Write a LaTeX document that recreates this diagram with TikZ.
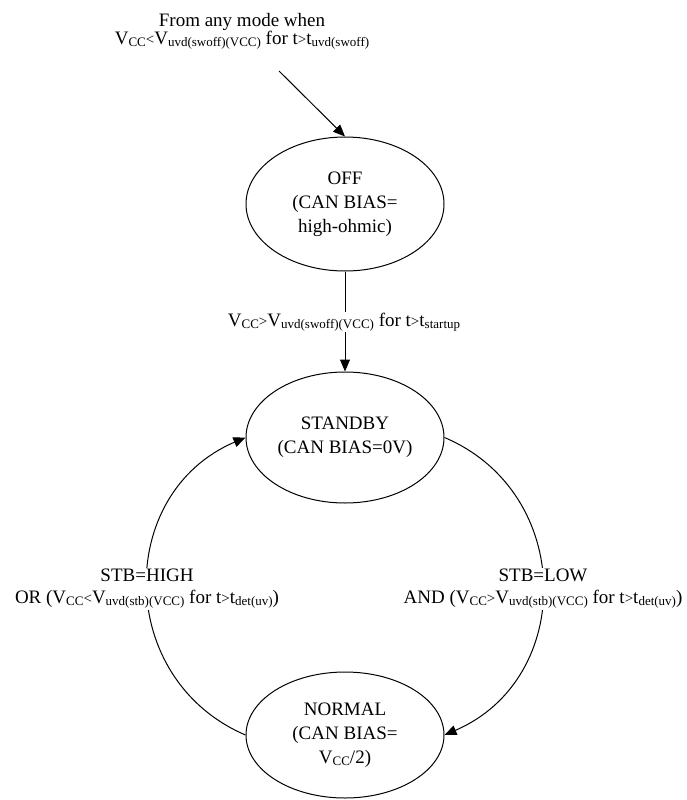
\documentclass[tikz,border=0pt]{standalone}
\usepackage{fontspec}
\setmainfont{Liberation Serif}
\usetikzlibrary{shapes.geometric,arrows.meta}
\newcommand\sbs[1]{\raisebox{-2pt}{\fontsize{13}{13}\selectfont #1}}
\newcommand\sml[1]{{\fontsize{15}{15}\selectfont #1}}
\tikzset{
  state/.style={ellipse, draw, line width=1pt, inner sep=0pt, align=center,
    minimum width=198pt, font=\fontsize{19}{24}\selectfont},
  lbl/.style={align=center, fill=white, inner sep=1pt, font=\fontsize{19}{22}\selectfont},
  arr/.style={-{Triangle[length=12pt,width=10pt]}, line width=1pt}
}
\begin{document}
\begin{tikzpicture}[x=1pt,y=-1pt]
\useasboundingbox (0,0) rectangle (687,800);
\node[state, minimum height=134pt] (off) at (345,204) {OFF\\(CAN BIAS=\\high-ohmic)};
\node[state, minimum height=131pt] (standby) at (345,437.5) {STANDBY\\(CAN BIAS=0V)};
\node[state, minimum height=126pt] (normal) at (345,735) {NORMAL\\(CAN BIAS=\\V\sbs{CC}/2)};
\node[align=center, inner sep=1pt, font=\fontsize{19}{18}\selectfont] (from) at (242,31)
  {From any mode when\\V\sbs{CC}\sml{<}V\sbs{uvd(swoff)(VCC)} for t\sml{>}t\sbs{uvd(swoff)}};
\coordinate (src) at (279,71);
\draw[arr] (src) -- (off.north);
\draw[arr] (off.south) -- (standby.north);
\node[lbl] (l1) at (344,322) {V\sbs{CC}\sml{>}V\sbs{uvd(swoff)(VCC)} for t\sml{>}t\sbs{startup}};
\draw[arr] (normal.west) .. controls (115,679) and (115,493) .. (standby.west);
\draw[arr] (standby.east) .. controls (575,493) and (575,679) .. (normal.east);
\node[lbl] (l2) at (147,589) {STB=HIGH\\OR (V\sbs{CC}\sml{<}V\sbs{uvd(stb)(VCC)} for t\sml{>}t\sbs{det(uv)})};
\node[lbl] (l3) at (543,589) {STB=LOW\\AND (V\sbs{CC}\sml{>}V\sbs{uvd(stb)(VCC)} for t\sml{>}t\sbs{det(uv)})};
\end{tikzpicture}
\end{document}
